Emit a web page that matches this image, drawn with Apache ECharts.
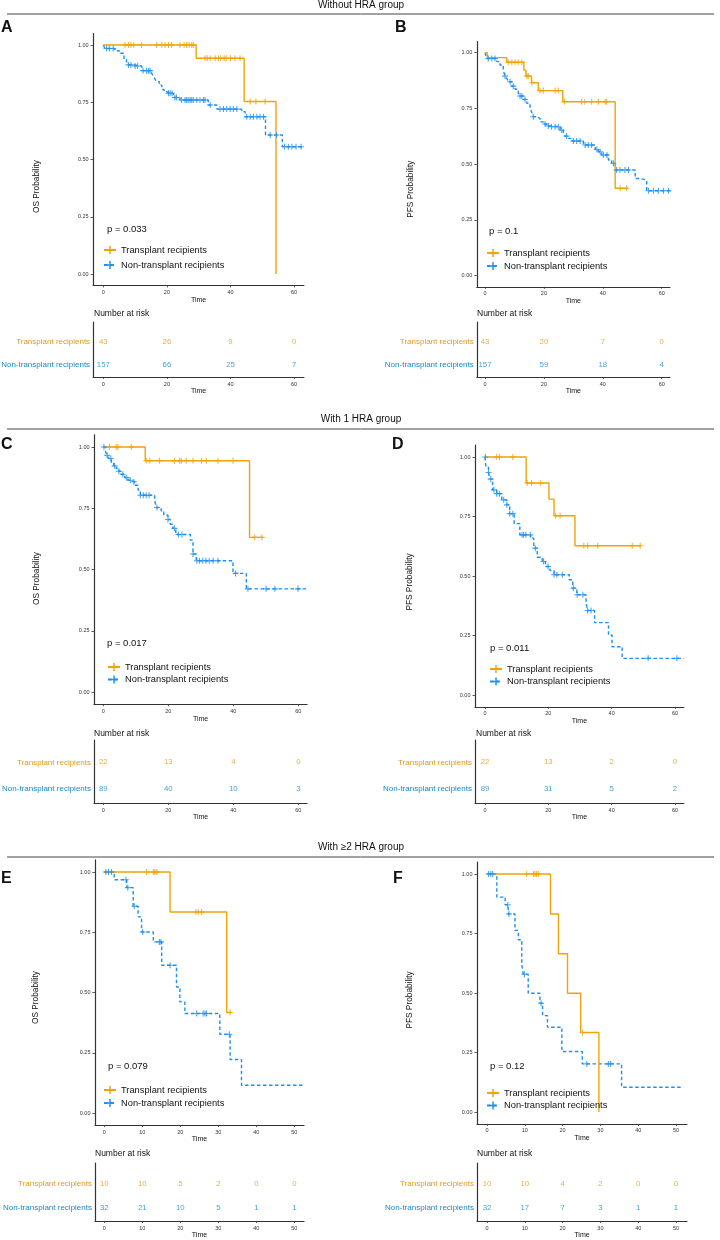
<!DOCTYPE html>
<html><head><meta charset="utf-8">
<script src="https://cdn.jsdelivr.net/npm/echarts@6/dist/echarts.min.js"></script>
<style>html,body{margin:0;padding:0;background:#fff}#c{width:720px;height:1240px}</style>
</head><body><div id="c"></div>
<script>
// ---------------- DATA ----------------
const seriesNames = ['Transplant recipients', 'Non-transplant recipients'];
const sectionTitles = ['Without HRA group', 'With 1 HRA group', 'With \u22652 HRA group'];
const panelLetters = ['A', 'B', 'C', 'D', 'E', 'F'];
const yTitles = ['OS Probability', 'PFS Probability', 'OS Probability', 'PFS Probability', 'OS Probability', 'PFS Probability'];
const pValues = ['p = 0.033', 'p = 0.1', 'p = 0.017', 'p = 0.011', 'p = 0.079', 'p = 0.12'];
const probTicks = [0, 0.25, 0.5, 0.75, 1];
const timeTicks60 = [0, 20, 40, 60];
const timeTicks50 = [0, 10, 20, 30, 40, 50];

// Panel A (OS, without HRA)
const aTxTime = [0, 29.2, 44.3, 54.3];
const aTxSurv = [1, 0.942, 0.753, 0];
const aTxCens = [6.8, 7.9, 8.7, 9.6, 12.0, 16.8, 18.4, 19.4, 20.5, 21.5, 24.1, 25.4, 26.2, 27.0, 27.8, 28.3, 32.0, 32.7, 33.6, 35.2, 36.2, 36.9, 38.0, 38.6, 40.0, 41.4, 43.0, 46.2, 48.0, 50.9];
const aNtTime = [0, 0.5, 3.6, 5.0, 6.5, 7.3, 7.9, 9.4, 12.1, 15.2, 15.7, 16.3, 16.8, 17.6, 18.4, 19.1, 19.9, 22.0, 24.1, 33.0, 35.7, 43.5, 44.6, 51.0, 56.3, 62.7];
const aNtSurv = [1, 0.985, 0.975, 0.964, 0.937, 0.927, 0.913, 0.908, 0.888, 0.876, 0.865, 0.85, 0.84, 0.825, 0.806, 0.796, 0.789, 0.771, 0.76, 0.738, 0.72, 0.709, 0.687, 0.607, 0.556, 0.556];
const aNtCens = [1.0, 1.9, 3.1, 7.9, 8.7, 10.0, 10.8, 12.5, 13.6, 14.2, 14.7, 20.5, 21.0, 21.6, 22.5, 23.0, 24.6, 25.7, 26.2, 26.7, 27.3, 27.8, 28.3, 29.4, 30.4, 31.5, 32.0, 33.6, 36.7, 37.8, 38.8, 39.9, 40.9, 42.0, 45.1, 46.2, 47.2, 48.3, 49.3, 50.4, 52.5, 54.5, 57.0, 58.2, 59.3, 60.6, 62.2];
const aRiskTx = [43, 26, 9, 0];
const aRiskNt = [157, 66, 25, 7];

// Panel B (PFS, without HRA)
const bTxTime = [0, 0.8, 7.4, 13.2, 13.9, 15.8, 18.1, 26.4, 44.2, 48.5];
const bTxSurv = [1, 0.978, 0.957, 0.922, 0.895, 0.865, 0.83, 0.78, 0.392, 0.392];
const bTxCens = [7.9, 9.1, 10.2, 11.3, 12.5, 14.2, 14.7, 15.9, 18.7, 19.8, 23.8, 24.9, 27.0, 32.8, 33.9, 36.2, 38.5, 40.8, 41.3, 45.9, 48.1];
const bNtTime = [0, 0.6, 4.0, 5.1, 6.2, 6.8, 7.4, 7.9, 9.1, 10.2, 11.3, 11.9, 13.0, 14.2, 15.3, 15.8, 16.4, 17.5, 18.7, 19.8, 20.9, 22.1, 25.5, 26.6, 27.2, 28.3, 29.4, 33.4, 37.4, 38.5, 39.6, 41.9, 43.0, 44.2, 51.0, 52.6, 54.9, 63.1];
const bNtSurv = [1, 0.974, 0.96, 0.945, 0.922, 0.895, 0.885, 0.87, 0.85, 0.836, 0.818, 0.806, 0.79, 0.773, 0.75, 0.735, 0.713, 0.705, 0.69, 0.68, 0.671, 0.668, 0.653, 0.641, 0.626, 0.616, 0.604, 0.586, 0.566, 0.556, 0.541, 0.519, 0.504, 0.474, 0.436, 0.429, 0.381, 0.381];
const bNtCens = [1.1, 2.3, 3.4, 6.8, 8.5, 9.6, 11.9, 12.5, 13.6, 16.4, 20.4, 21.5, 22.6, 23.8, 24.9, 26.0, 27.7, 30.0, 31.1, 32.3, 34.0, 35.1, 36.2, 38.0, 39.1, 40.2, 41.4, 43.6, 44.7, 45.8, 47.5, 48.7, 55.5, 57.2, 58.9, 60.6, 62.3];
const bRiskTx = [43, 20, 7, 0];
const bRiskNt = [157, 59, 18, 4];

// Panel C (OS, 1 HRA)
const cTxTime = [0, 12.9, 45.0, 49.1];
const cTxSurv = [1, 0.944, 0.631, 0.631];
const cTxCens = [1.9, 4.0, 4.5, 8.6, 13.2, 14.3, 17.3, 21.9, 23.5, 24.0, 25.5, 27.6, 30.2, 31.7, 35.3, 39.9, 46.6, 48.8];
const cNtTime = [0, 0.7, 1.1, 1.7, 2.5, 3.2, 4.0, 4.8, 5.5, 6.6, 7.6, 8.6, 9.6, 10.7, 11.4, 15.8, 16.3, 17.8, 18.6, 19.9, 20.6, 21.4, 22.3, 26.8, 27.6, 28.6, 39.9, 44.0, 63.0];
const cNtSurv = [1, 0.98, 0.966, 0.953, 0.935, 0.923, 0.912, 0.901, 0.889, 0.875, 0.864, 0.858, 0.844, 0.824, 0.803, 0.783, 0.753, 0.74, 0.722, 0.704, 0.685, 0.668, 0.643, 0.62, 0.563, 0.536, 0.484, 0.421, 0.421];
const cNtCens = [0.2, 1.2, 2.3, 3.5, 4.8, 6.0, 7.2, 8.3, 9.4, 11.4, 12.3, 13.2, 14.1, 16.5, 19.9, 21.9, 23.1, 24.2, 27.6, 28.8, 29.6, 30.6, 31.6, 32.6, 33.8, 35.3, 40.7, 44.5, 50.1, 52.8, 59.9];
const cRiskTx = [22, 13, 4, 0];
const cRiskNt = [89, 40, 10, 3];

// Panel D (PFS, 1 HRA)
const dTxTime = [0, 13.0, 20.2, 21.8, 28.4, 49.3];
const dTxSurv = [1, 0.891, 0.823, 0.753, 0.627, 0.627];
const dTxCens = [3.7, 4.6, 8.8, 13.3, 14.7, 17.6, 22.3, 23.7, 31.2, 32.4, 35.6, 46.5, 49.0];
const dNtTime = [0, 0.3, 1.1, 1.6, 2.4, 3.7, 5.3, 6.9, 7.8, 9.2, 11.0, 14.4, 15.4, 16.5, 18.1, 19.1, 20.5, 21.8, 26.6, 27.7, 29.0, 31.9, 32.4, 34.6, 39.0, 40.1, 43.3, 62.8];
const dNtSurv = [1, 0.957, 0.935, 0.907, 0.862, 0.846, 0.82, 0.799, 0.762, 0.72, 0.673, 0.659, 0.617, 0.579, 0.561, 0.54, 0.523, 0.505, 0.484, 0.449, 0.421, 0.386, 0.355, 0.304, 0.252, 0.203, 0.154, 0.154];
const dNtCens = [0.1, 1.1, 1.8, 2.8, 3.7, 4.6, 5.9, 6.9, 7.8, 8.8, 11.7, 12.2, 12.9, 14.3, 15.9, 18.5, 19.9, 21.8, 22.7, 24.4, 27.9, 29.1, 30.9, 32.4, 33.5, 51.5, 60.6];
const dRiskTx = [22, 13, 2, 0];
const dRiskNt = [89, 31, 5, 2];

// Panel E (OS, >=2 HRA)
const eTxTime = [0, 17.3, 32.2, 33.5];
const eTxSurv = [1, 0.834, 0.417, 0.417];
const eTxCens = [11.1, 12.9, 13.3, 13.8, 24.1, 24.7, 25.6, 33.1];
const eNtTime = [0, 2.6, 5.9, 7.6, 8.9, 9.8, 12.9, 15.1, 19.0, 19.9, 21.2, 30.4, 33.1, 36.1, 52.8];
const eNtSurv = [1, 0.968, 0.935, 0.858, 0.814, 0.751, 0.71, 0.613, 0.523, 0.461, 0.413, 0.327, 0.222, 0.115, 0.115];
const eNtCens = [0.4, 1.1, 1.9, 5.7, 6.2, 7.9, 10.1, 14.5, 14.9, 17.3, 24.3, 26.0, 26.5, 26.9, 32.9];
const eRiskTx = [10, 10, 5, 2, 0, 0];
const eRiskNt = [32, 21, 10, 5, 1, 1];

// Panel F (PFS, >=2 HRA)
const fTxTime = [0, 16.8, 18.9, 21.3, 24.8, 29.6];
const fTxSurv = [1, 0.832, 0.665, 0.499, 0.334, 0];
const fTxCens = [10.5, 12.3, 12.7, 13.1, 13.6, 25.3];
const fNtTime = [0, 2.6, 4.8, 5.6, 7.4, 8.3, 9.2, 9.6, 10.9, 14.0, 14.7, 16.0, 19.8, 25.2, 35.6, 51.5];
const fNtSurv = [1, 0.903, 0.871, 0.832, 0.763, 0.724, 0.619, 0.579, 0.499, 0.457, 0.405, 0.356, 0.254, 0.202, 0.104, 0.104];
const fNtCens = [0.4, 1.0, 1.5, 5.5, 5.8, 9.9, 14.3, 26.4, 32.1, 32.7];
const fRiskTx = [10, 10, 4, 2, 0, 0];
const fRiskNt = [32, 17, 7, 3, 1, 1];

// ---------------- LAYOUT / STYLE ----------------
const FONT = '"Liberation Sans", Arial, Helvetica, sans-serif';
const COL_TX = '#F0A30A', COL_NT = '#1E90F0';
const TXT_TX = '#E29A1C', TXT_NT = '#1A88C8';
const AXIS = '#333';
const PLUS = 'path://M0,2.45 H6 V3.55 H0 Z M2.45,0 H3.55 V6 H2.45 Z';

const panels = [
  {txT: aTxTime, txS: aTxSurv, txC: aTxCens, ntT: aNtTime, ntS: aNtSurv, ntC: aNtCens, rt: timeTicks60, rTx: aRiskTx, rNt: aRiskNt},
  {txT: bTxTime, txS: bTxSurv, txC: bTxCens, ntT: bNtTime, ntS: bNtSurv, ntC: bNtCens, rt: timeTicks60, rTx: bRiskTx, rNt: bRiskNt},
  {txT: cTxTime, txS: cTxSurv, txC: cTxCens, ntT: cNtTime, ntS: cNtSurv, ntC: cNtCens, rt: timeTicks60, rTx: cRiskTx, rNt: cRiskNt},
  {txT: dTxTime, txS: dTxSurv, txC: dTxCens, ntT: dNtTime, ntS: dNtSurv, ntC: dNtCens, rt: timeTicks60, rTx: dRiskTx, rNt: dRiskNt},
  {txT: eTxTime, txS: eTxSurv, txC: eTxCens, ntT: eNtTime, ntS: eNtSurv, ntC: eNtCens, rt: timeTicks50, rTx: eRiskTx, rNt: eRiskNt},
  {txT: fTxTime, txS: fTxSurv, txC: fTxCens, ntT: fNtTime, ntS: fNtSurv, ntC: fNtCens, rt: timeTicks50, rTx: fRiskTx, rNt: fRiskNt}
];

const layouts = [
  {x0: 103.3, ppu: 3.18, xmin: -3.2, xmax: 63.1, y1: 45, y0: 274, tabTop: 322, tabH: 55, letter: [1, 27], p: [107, 229], legend: [103, 245.5], legGap: 6, nar: [94, 314], nameGap: 52, nameShift: 27},
  {x0: 485, ppu: 2.945, xmin: -2.8, xmax: 62.8, y1: 52.7, y0: 275.7, tabTop: 322, tabH: 55, letter: [395, 27], p: [489, 231], legend: [486, 248.5], legGap: 4, nar: [477, 314], nameGap: 62, nameShift: 25},
  {x0: 103.3, ppu: 3.25, xmin: -2.86, xmax: 62.7, y1: 447, y0: 692, tabTop: 740, tabH: 63, letter: [1, 443.5], p: [107, 643], legend: [107, 662.5], legGap: 3.5, nar: [94, 734], nameGap: 53, nameShift: 9},
  {x0: 485, ppu: 3.167, xmin: -3.16, xmax: 62.8, y1: 457, y0: 695, tabTop: 740, tabH: 63, letter: [392, 444], p: [490, 648], legend: [489, 664.5], legGap: 3.5, nar: [476, 734], nameGap: 61, nameShift: 6},
  {x0: 104.3, ppu: 3.8, xmin: -2.45, xmax: 52.55, y1: 872, y0: 1113, tabTop: 1163, tabH: 58, letter: [1, 877.5], p: [108, 1066], legend: [103, 1085.5], legGap: 4, nar: [95, 1154], nameGap: 55, nameShift: 5},
  {x0: 487, ppu: 3.78, xmin: -2.65, xmax: 52.9, y1: 874, y0: 1112, tabTop: 1163, tabH: 58, letter: [393, 877.5], p: [490, 1066], legend: [486, 1088.5], legGap: 3.5, nar: [477, 1154], nameGap: 63, nameShift: 7}
];
const sectionLayout = [{title: 5, line: 14}, {title: 419, line: 429}, {title: 847, line: 857}];

// ---------------- BUILD ----------------
function pairs(times, survs) { return times.map((t, i) => [t, survs[i]]); }
function survAt(times, survs, t) {
  let s = survs[0];
  for (let i = 0; i < times.length; i++) { if (times[i] <= t) s = survs[i]; }
  return s;
}

const option = {
  animation: false,
  backgroundColor: '#ffffff',
  textStyle: {fontFamily: FONT},
  grid: [], xAxis: [], yAxis: [], series: [], legend: [], graphic: []
};

panels.forEach((P, i) => {
  const L = layouts[i];
  const left = L.x0 + L.xmin * L.ppu;
  const width = (L.xmax - L.xmin) * L.ppu;
  const h = L.y0 - L.y1;
  const gPlot = 2 * i, gTab = 2 * i + 1;
  option.grid.push({left: left, top: L.y1 - 0.05 * h, width: width, height: 1.1 * h, outerBoundsMode: 'none'});
  option.grid.push({left: left, top: L.tabTop, width: width, height: L.tabH, outerBoundsMode: 'none'});

  const xCommon = (ticks) => ({
    type: 'value', min: L.xmin, max: L.xmax,
    name: 'Time', nameLocation: 'middle', nameGap: 11,
    nameTextStyle: {fontSize: 7, color: '#111', fontFamily: FONT},
    axisLine: {show: true, onZero: false, lineStyle: {color: AXIS, width: 1.2}},
    axisTick: {show: true, length: 2, customValues: ticks, lineStyle: {color: AXIS, width: 0.8}},
    axisLabel: {customValues: ticks, fontSize: 5.5, color: '#333', margin: 4, fontFamily: FONT},
    splitLine: {show: false}
  });
  option.xAxis.push(Object.assign({gridIndex: gPlot}, xCommon(P.rt)));
  option.xAxis.push(Object.assign({gridIndex: gTab}, xCommon(P.rt)));

  option.yAxis.push({
    gridIndex: gPlot, type: 'value', min: -0.05, max: 1.05,
    name: yTitles[i], nameLocation: 'middle', nameGap: L.nameGap, nameRotate: 90,
    nameTextStyle: {fontSize: 8.3, color: '#111', fontFamily: FONT, padding: [0, 2 * L.nameShift, 0, 0]},
    axisLine: {show: true, onZero: false, lineStyle: {color: AXIS, width: 1.2}},
    axisTick: {show: true, length: 2.5, customValues: probTicks, lineStyle: {color: AXIS, width: 0.8}},
    axisLabel: {customValues: probTicks, formatter: v => Number(v).toFixed(2), fontSize: 5.5, color: '#333', margin: 4.5, fontFamily: FONT},
    splitLine: {show: false}
  });
  option.yAxis.push({
    gridIndex: gTab, type: 'value', min: 0.45, max: 2.85,
    axisLine: {show: true, onZero: false, lineStyle: {color: AXIS, width: 1.2}},
    axisTick: {show: false},
    axisLabel: {
      customValues: [1, 2], margin: 3, fontSize: 8, fontFamily: FONT,
      formatter: v => (Number(v) === 2 ? seriesNames[0] : seriesNames[1]),
      color: v => (Number(v) === 2 ? TXT_TX : TXT_NT)
    },
    splitLine: {show: false}
  });

  // KM step lines
  option.series.push({
    type: 'line', name: seriesNames[0], xAxisIndex: gPlot, yAxisIndex: gPlot,
    step: 'end', data: pairs(P.txT, P.txS), symbol: PLUS, showSymbol: false,
    lineStyle: {color: COL_TX, width: 1.4}, itemStyle: {color: COL_TX}, z: 3
  });
  option.series.push({
    type: 'line', name: seriesNames[1], xAxisIndex: gPlot, yAxisIndex: gPlot,
    step: 'end', data: pairs(P.ntT, P.ntS), symbol: PLUS, showSymbol: false,
    lineStyle: {color: COL_NT, width: 1.4, type: [3.5, 2.5]}, itemStyle: {color: COL_NT}, z: 2
  });
  // censor marks
  option.series.push({
    type: 'scatter', name: seriesNames[0], xAxisIndex: gPlot, yAxisIndex: gPlot,
    data: P.txC.map(t => [t, survAt(P.txT, P.txS, t)]), symbol: PLUS, symbolSize: 6,
    itemStyle: {color: COL_TX}, z: 4, silent: true
  });
  option.series.push({
    type: 'scatter', name: seriesNames[1], xAxisIndex: gPlot, yAxisIndex: gPlot,
    data: P.ntC.map(t => [t, survAt(P.ntT, P.ntS, t)]), symbol: PLUS, symbolSize: 6,
    itemStyle: {color: COL_NT}, z: 4, silent: true
  });
  // risk table numbers
  option.series.push({
    type: 'scatter', name: seriesNames[0] + ' at risk', xAxisIndex: gTab, yAxisIndex: gTab,
    data: P.rt.map((t, j) => [t, 2, P.rTx[j]]), symbolSize: 1, itemStyle: {color: 'rgba(0,0,0,0)'}, silent: true,
    label: {show: true, position: 'inside', formatter: p => String(p.value[2]), color: TXT_TX, fontSize: 7.8, fontFamily: FONT}
  });
  option.series.push({
    type: 'scatter', name: seriesNames[1] + ' at risk', xAxisIndex: gTab, yAxisIndex: gTab,
    data: P.rt.map((t, j) => [t, 1, P.rNt[j]]), symbolSize: 1, itemStyle: {color: 'rgba(0,0,0,0)'}, silent: true,
    label: {show: true, position: 'inside', formatter: p => String(p.value[2]), color: TXT_NT, fontSize: 7.8, fontFamily: FONT}
  });

  option.legend.push({
    data: seriesNames, orient: 'vertical', left: L.legend[0], top: L.legend[1],
    itemWidth: 12, itemHeight: 10, itemGap: L.legGap, padding: 0, selectedMode: false,
    textStyle: {fontSize: 9.3, color: '#111', fontFamily: FONT}
  });

  option.graphic.push({type: 'text', left: L.letter[0], top: L.letter[1] - 7, silent: true,
    style: {text: panelLetters[i], font: 'bold 16px ' + FONT, fill: '#111'}});
  option.graphic.push({type: 'text', x: L.p[0], y: L.p[1], silent: true,
    style: {text: pValues[i], font: '9.5px ' + FONT, fill: '#111', verticalAlign: 'middle'}});
  option.graphic.push({type: 'text', x: L.nar[0], y: L.nar[1], silent: true,
    style: {text: 'Number at risk', font: '8.5px ' + FONT, fill: '#111', verticalAlign: 'middle'}});
});

sectionTitles.forEach((t, k) => {
  const S = sectionLayout[k];
  option.graphic.push({type: 'text', x: 361, y: S.title, silent: true,
    style: {text: t, font: '10px ' + FONT, fill: '#111', align: 'center', verticalAlign: 'middle'}});
  option.graphic.push({type: 'line', silent: true,
    shape: {x1: 7, y1: S.line, x2: 714, y2: S.line}, style: {stroke: '#444', lineWidth: 1}});
});

const chart = echarts.init(document.getElementById('c'), null, {renderer: 'canvas', width: 720, height: 1240});
chart.setOption(option);
</script></body></html>
